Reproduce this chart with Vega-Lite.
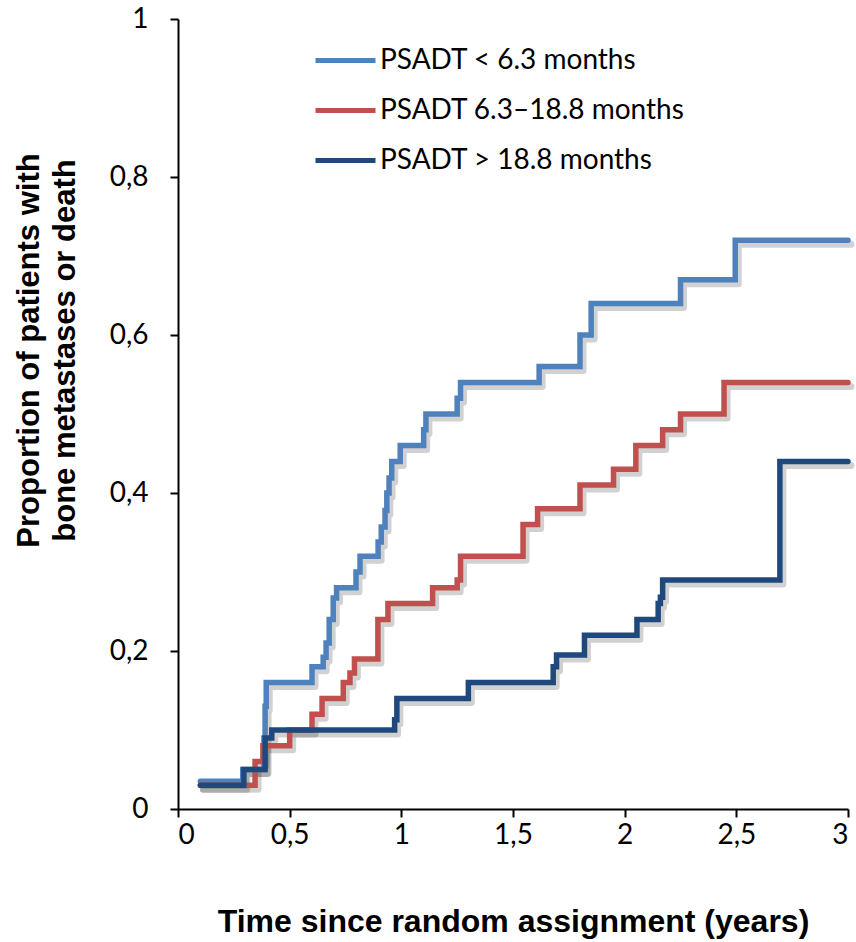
{
  "$schema": "https://vega.github.io/schema/vega-lite/v6.json",
  "width": 670,
  "height": 790,
  "autosize": "none",
  "padding": {"left": 178, "top": 19, "right": 8, "bottom": 133},
  "background": "white",
  "config": {"view": {"stroke": null}},
  "data": {"values": [
    {"group": "PSADT < 6.3 months", "t": 0.1, "p": 0.035},
    {"group": "PSADT < 6.3 months", "t": 0.29, "p": 0.05},
    {"group": "PSADT < 6.3 months", "t": 0.385, "p": 0.09},
    {"group": "PSADT < 6.3 months", "t": 0.39, "p": 0.13},
    {"group": "PSADT < 6.3 months", "t": 0.395, "p": 0.16},
    {"group": "PSADT < 6.3 months", "t": 0.6, "p": 0.18},
    {"group": "PSADT < 6.3 months", "t": 0.65, "p": 0.192},
    {"group": "PSADT < 6.3 months", "t": 0.663, "p": 0.21},
    {"group": "PSADT < 6.3 months", "t": 0.677, "p": 0.24},
    {"group": "PSADT < 6.3 months", "t": 0.695, "p": 0.267},
    {"group": "PSADT < 6.3 months", "t": 0.71, "p": 0.28},
    {"group": "PSADT < 6.3 months", "t": 0.797, "p": 0.3},
    {"group": "PSADT < 6.3 months", "t": 0.815, "p": 0.32},
    {"group": "PSADT < 6.3 months", "t": 0.896, "p": 0.338},
    {"group": "PSADT < 6.3 months", "t": 0.91, "p": 0.357},
    {"group": "PSADT < 6.3 months", "t": 0.927, "p": 0.378},
    {"group": "PSADT < 6.3 months", "t": 0.935, "p": 0.4},
    {"group": "PSADT < 6.3 months", "t": 0.945, "p": 0.419},
    {"group": "PSADT < 6.3 months", "t": 0.957, "p": 0.44},
    {"group": "PSADT < 6.3 months", "t": 0.995, "p": 0.46},
    {"group": "PSADT < 6.3 months", "t": 1.1, "p": 0.48},
    {"group": "PSADT < 6.3 months", "t": 1.11, "p": 0.5},
    {"group": "PSADT < 6.3 months", "t": 1.25, "p": 0.52},
    {"group": "PSADT < 6.3 months", "t": 1.265, "p": 0.54},
    {"group": "PSADT < 6.3 months", "t": 1.617, "p": 0.56},
    {"group": "PSADT < 6.3 months", "t": 1.8, "p": 0.6},
    {"group": "PSADT < 6.3 months", "t": 1.85, "p": 0.64},
    {"group": "PSADT < 6.3 months", "t": 2.25, "p": 0.67},
    {"group": "PSADT < 6.3 months", "t": 2.495, "p": 0.72},
    {"group": "PSADT < 6.3 months", "t": 3.0, "p": 0.72},
    {"group": "PSADT 6.3–18.8 months", "t": 0.1, "p": 0.03},
    {"group": "PSADT 6.3–18.8 months", "t": 0.345, "p": 0.06},
    {"group": "PSADT 6.3–18.8 months", "t": 0.38, "p": 0.08},
    {"group": "PSADT 6.3–18.8 months", "t": 0.5, "p": 0.1},
    {"group": "PSADT 6.3–18.8 months", "t": 0.6, "p": 0.12},
    {"group": "PSADT 6.3–18.8 months", "t": 0.645, "p": 0.14},
    {"group": "PSADT 6.3–18.8 months", "t": 0.74, "p": 0.16},
    {"group": "PSADT 6.3–18.8 months", "t": 0.77, "p": 0.172},
    {"group": "PSADT 6.3–18.8 months", "t": 0.79, "p": 0.19},
    {"group": "PSADT 6.3–18.8 months", "t": 0.895, "p": 0.24},
    {"group": "PSADT 6.3–18.8 months", "t": 0.94, "p": 0.26},
    {"group": "PSADT 6.3–18.8 months", "t": 1.14, "p": 0.28},
    {"group": "PSADT 6.3–18.8 months", "t": 1.25, "p": 0.29},
    {"group": "PSADT 6.3–18.8 months", "t": 1.265, "p": 0.32},
    {"group": "PSADT 6.3–18.8 months", "t": 1.545, "p": 0.36},
    {"group": "PSADT 6.3–18.8 months", "t": 1.61, "p": 0.38},
    {"group": "PSADT 6.3–18.8 months", "t": 1.8, "p": 0.41},
    {"group": "PSADT 6.3–18.8 months", "t": 1.95, "p": 0.43},
    {"group": "PSADT 6.3–18.8 months", "t": 2.05, "p": 0.46},
    {"group": "PSADT 6.3–18.8 months", "t": 2.17, "p": 0.48},
    {"group": "PSADT 6.3–18.8 months", "t": 2.25, "p": 0.5},
    {"group": "PSADT 6.3–18.8 months", "t": 2.445, "p": 0.54},
    {"group": "PSADT 6.3–18.8 months", "t": 3.0, "p": 0.54},
    {"group": "PSADT > 18.8 months", "t": 0.1, "p": 0.03},
    {"group": "PSADT > 18.8 months", "t": 0.295, "p": 0.05},
    {"group": "PSADT > 18.8 months", "t": 0.39, "p": 0.09},
    {"group": "PSADT > 18.8 months", "t": 0.42, "p": 0.1},
    {"group": "PSADT > 18.8 months", "t": 0.97, "p": 0.113},
    {"group": "PSADT > 18.8 months", "t": 0.98, "p": 0.14},
    {"group": "PSADT > 18.8 months", "t": 1.3, "p": 0.16},
    {"group": "PSADT > 18.8 months", "t": 1.68, "p": 0.18},
    {"group": "PSADT > 18.8 months", "t": 1.695, "p": 0.195},
    {"group": "PSADT > 18.8 months", "t": 1.82, "p": 0.22},
    {"group": "PSADT > 18.8 months", "t": 2.055, "p": 0.24},
    {"group": "PSADT > 18.8 months", "t": 2.15, "p": 0.26},
    {"group": "PSADT > 18.8 months", "t": 2.16, "p": 0.268},
    {"group": "PSADT > 18.8 months", "t": 2.17, "p": 0.29},
    {"group": "PSADT > 18.8 months", "t": 2.695, "p": 0.44},
    {"group": "PSADT > 18.8 months", "t": 3.0, "p": 0.44}
  ]},
  "layer": [
    {
      "mark": {"type": "line", "interpolate": "step-after", "strokeWidth": 7, "color": "#000000", "opacity": 0.18, "xOffset": 3, "yOffset": 4, "strokeCap": "round", "strokeJoin": "round"},
      "encoding": {
        "x": {"field": "t", "type": "quantitative"},
        "y": {"field": "p", "type": "quantitative"},
        "detail": {"field": "group"}
      }
    },
    {
      "mark": {"type": "line", "interpolate": "step-after", "strokeWidth": 5.5, "strokeCap": "round", "strokeJoin": "miter"},
      "encoding": {
        "x": {
          "field": "t", "type": "quantitative",
          "scale": {"domain": [0, 3], "nice": false},
          "axis": {
            "values": [0, 0.5, 1, 1.5, 2, 2.5, 3],
            "labelExpr": "replace(format(datum.value, ''), '.', ',')",
            "grid": false, "domainColor": "#000", "domainWidth": 2, "tickColor": "#000", "tickWidth": 2, "tickSize": 8,
            "labelFont": "Lato", "labelFontSize": 28, "labelColor": "#000", "labelPadding": 4,
            "title": "Time since random assignment (years)",
            "titleFont": "Liberation Sans", "titleFontSize": 32, "titleFontWeight": "bold", "titleColor": "#000", "titlePadding": 57
          }
        },
        "y": {
          "field": "p", "type": "quantitative",
          "scale": {"domain": [0, 1], "nice": false},
          "axis": {
            "values": [0, 0.2, 0.4, 0.6, 0.8, 1],
            "labelExpr": "replace(format(datum.value, ''), '.', ',')",
            "grid": false, "domainColor": "#000", "domainWidth": 2, "tickColor": "#000", "tickWidth": 2, "tickSize": 8,
            "labelFont": "Lato", "labelFontSize": 28, "labelColor": "#000", "labelPadding": 22,
            "title": ["Proportion of patients with", "bone metastases or death"],
            "titleFont": "Liberation Sans", "titleFontSize": 31, "titleFontWeight": "bold", "titleColor": "#000", "titlePadding": 28, "titleLineHeight": 36, "titleY": 331
          }
        },
        "color": {
          "field": "group", "type": "nominal",
          "scale": {"domain": ["PSADT < 6.3 months", "PSADT 6.3–18.8 months", "PSADT > 18.8 months"], "range": ["#4F81BD", "#C0504D", "#1F497D"]},
          "legend": {
            "orient": "none", "legendX": 135, "legendY": 9, "title": null,
            "symbolType": "stroke", "symbolSize": 3600, "symbolStrokeWidth": 5,
            "labelFont": "Lato", "labelFontSize": 28, "labelColor": "#000", "labelLimit": 500,
            "rowPadding": 3, "labelOffset": 2
          }
        }
      }
    }
  ]
}
